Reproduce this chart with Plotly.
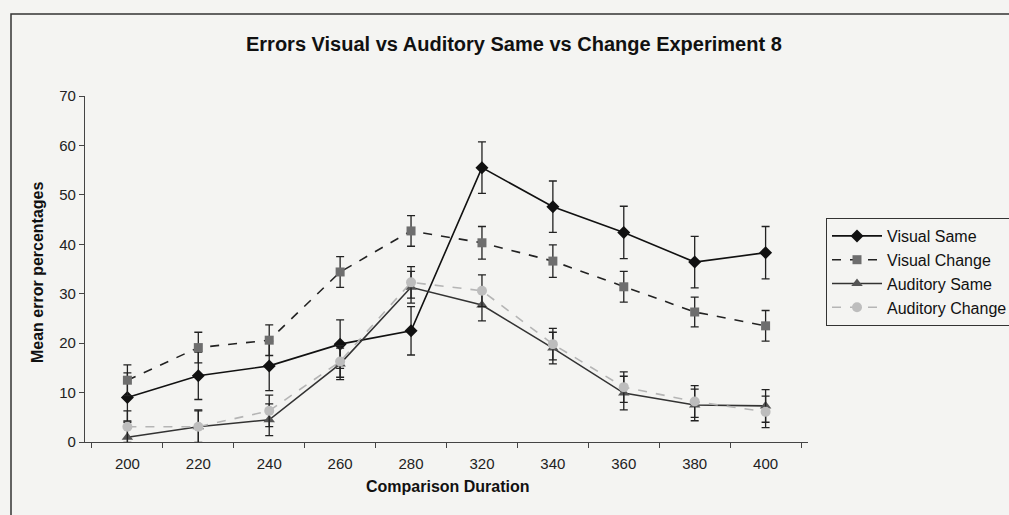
import plotly.graph_objects as go

categories = ["200", "220", "240", "260", "280", "320", "340", "360", "380", "400"]
visual_same = [9.0, 13.4, 15.4, 19.8, 22.5, 55.5, 47.6, 42.4, 36.4, 38.3]
visual_same_err = [5.0, 4.8, 5.0, 4.9, 4.9, 5.2, 5.2, 5.3, 5.2, 5.3]
visual_change = [12.5, 19.1, 20.6, 34.4, 42.7, 40.3, 36.6, 31.4, 26.3, 23.5]
visual_change_err = [3.1, 3.1, 3.1, 3.1, 3.1, 3.3, 3.3, 3.1, 3.0, 3.1]
auditory_same = [0.95, 3.1, 4.5, 15.8, 31.3, 27.7, 19.0, 9.9, 7.5, 7.3]
auditory_same_err = [3.3, 3.4, 3.2, 3.2, 3.2, 3.2, 3.2, 3.4, 3.2, 3.3]
auditory_change = [3.1, 3.1, 6.3, 16.3, 32.3, 30.6, 19.8, 11.1, 8.2, 6.1]
auditory_change_err = [3.2, 3.2, 3.2, 3.2, 3.2, 3.2, 3.2, 3.1, 3.2, 3.2]

series = [
    ("Visual Same", visual_same, visual_same_err, "#111111", "solid", "diamond", "#111111", 10),
    ("Visual Change", visual_change, visual_change_err, "#222222", "dash", "square", "#6e6e6e", 9),
    ("Auditory Same", auditory_same, auditory_same_err, "#333333", "solid", "triangle-up", "#555555", 10),
    ("Auditory Change", auditory_change, auditory_change_err, "#b5b5b5", "dash", "circle", "#bdbdbd", 10),
]

fig = go.Figure()
for name, vals, errs, lc, dash, sym, mc, ms in series:
    fig.add_trace(go.Scatter(
        x=categories, y=vals, name=name, mode="lines+markers", legendgroup=name,
        line=dict(color=lc, width=1.6, dash=dash),
        marker=dict(symbol=sym, color=mc, size=ms, line=dict(width=0)),
        error_y=dict(type="data", array=errs, visible=True, color="#222222", thickness=1.3, width=4),
    ))

L, R, T, B = 85, 808, 96, 442
W, H = 1009, 515
pw, ph = R - L, B - T

def px(x):
    return (x - L) / pw

def py(y):
    return (B - y) / ph

BG = "#f4f4f2"
fig.update_layout(
    width=W, height=H,
    margin=dict(l=L, r=W - R, t=T, b=H - B, autoexpand=False),
    paper_bgcolor=BG, plot_bgcolor=BG,
    font=dict(family="Liberation Sans, Arial, sans-serif", size=15, color="#222222"),
    showlegend=True,
    legend=dict(
        xref="container", yref="container",
        x=826 / W, y=1 - 218 / H, xanchor="left", yanchor="top",
        bgcolor="rgba(0,0,0,0)", bordercolor="#333333", borderwidth=1,
        font=dict(size=16, color="#111111"), tracegroupgap=0, itemwidth=50,
    ),
    xaxis=dict(
        type="category", showgrid=False, showline=True, linecolor="#444444", linewidth=1.3,
        ticks="outside", ticklen=5, tickcolor="#444444", tickson="boundaries",
        tickfont=dict(size=15, color="#222222"), zeroline=False, ticklabelstandoff=8,
    ),
    yaxis=dict(
        range=[0, 70], dtick=10, showgrid=False, showline=True, linecolor="#444444", linewidth=1.3,
        ticks="outside", ticklen=5, tickcolor="#444444",
        tickfont=dict(size=15, color="#222222"), zeroline=False,
    ),
    annotations=[
        dict(text="<b>Errors Visual vs Auditory Same vs Change Experiment 8</b>", xref="paper", yref="paper",
             x=px(514), y=py(44), xanchor="center", yanchor="middle", showarrow=False,
             font=dict(size=20, color="#111111")),
        dict(text="<b>Comparison Duration</b>", xref="paper", yref="paper",
             x=px(448), y=py(486), xanchor="center", yanchor="middle", showarrow=False,
             font=dict(size=16, color="#111111")),
        dict(text="<b>Mean error percentages</b>", xref="paper", yref="paper",
             x=px(37), y=py(272), xanchor="center", yanchor="middle", showarrow=False, textangle=-90,
             font=dict(size=16, color="#111111")),
    ],
    shapes=[
        dict(type="rect", xref="paper", yref="paper", x0=px(11), x1=px(1015), y0=py(520), y1=py(14),
             line=dict(color="#333333", width=1.5), fillcolor="rgba(0,0,0,0)", layer="below"),
    ],
)

fig.write_html(
    "out.html",
    config={"displayModeBar": False},
    post_script="document.body.style.margin='0';document.body.style.background='" + BG + "';",
)
